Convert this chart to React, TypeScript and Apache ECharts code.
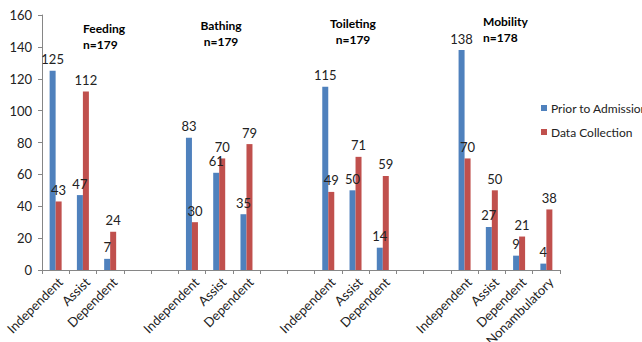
import React, { useEffect, useRef } from "react";
import * as echarts from "echarts";

// Activity levels shown under each ADL group
const levels = ["Independent", "Assist", "Dependent"];
const mobilityLevels = ["Independent", "Assist", "Dependent", "Nonambulatory"];

// Counts per level: prior to admission vs. at data collection
const feedingPrior = [125, 47, 7];
const feedingCollection = [43, 112, 24];
const bathingPrior = [83, 61, 35];
const bathingCollection = [30, 70, 79];
const toiletingPrior = [115, 50, 14];
const toiletingCollection = [49, 71, 59];
const mobilityPrior = [138, 27, 9, 4];
const mobilityCollection = [70, 50, 21, 38];

// Group headings
const groupTitles = ["Feeding", "Bathing", "Toileting", "Mobility"];
const groupSizes = ["n=179", "n=179", "n=179", "n=178"];

const seriesNames = ["Prior to Admission", "Data Collection"];
const yTicks = { min: 0, max: 160, interval: 20 };

// Two blank slots separate the groups on the category axis
const GAP = 2;
const groups = [
  { labels: levels, prior: feedingPrior, collection: feedingCollection },
  { labels: levels, prior: bathingPrior, collection: bathingCollection },
  { labels: levels, prior: toiletingPrior, collection: toiletingCollection },
  { labels: mobilityLevels, prior: mobilityPrior, collection: mobilityCollection },
];

const categories: string[] = [];
const priorData: (number | null)[] = [];
const collectionData: (number | null)[] = [];
groups.forEach((g, gi) => {
  if (gi > 0) {
    for (let i = 0; i < GAP; i++) {
      categories.push("");
      priorData.push(null);
      collectionData.push(null);
    }
  }
  g.labels.forEach((l, i) => {
    categories.push(l);
    priorData.push(g.prior[i]);
    collectionData.push(g.collection[i]);
  });
});

const FONT = "Lato, 'Open Sans', sans-serif";
const axisGrey = "#868686";

export default function App() {
  const ref = useRef<HTMLDivElement>(null);

  useEffect(() => {
    if (!ref.current) return;
    const chart = echarts.init(ref.current, undefined, { renderer: "svg" });

    const titleStyle = (text: string, align: "left" | "center") => ({
      text,
      font: `bold 12px ${FONT}`,
      fill: "#000",
      textAlign: align,
      textVerticalAlign: "middle",
    });
    const headings: any[] = [];
    const headingPos = [
      { x: 83, y: 28, align: "left" },
      { x: 221, y: 25, align: "center" },
      { x: 353, y: 23, align: "center" },
      { x: 483, y: 21, align: "left" },
    ];
    groupTitles.forEach((t, i) => {
      const p = headingPos[i];
      headings.push({ type: "text", x: p.x, y: p.y, style: titleStyle(t, p.align as any) });
      headings.push({ type: "text", x: p.x, y: p.y + 16, style: titleStyle(groupSizes[i], p.align as any) });
    });

    const labelStyle = {
      show: true,
      position: "top",
      distance: 5,
      fontSize: 13,
      fontFamily: FONT,
      color: "#222",
    };

    chart.setOption({
      animation: false,
      backgroundColor: "#fff",
      textStyle: { fontFamily: FONT },
      grid: {
        left: 42,
        right: 82,
        top: 15,
        bottom: 72,
        containLabel: false,
        outerBoundsMode: "none",
      },
      legend: {
        orient: "vertical",
        left: 541,
        top: 102,
        padding: 0,
        itemWidth: 6,
        itemHeight: 6,
        itemGap: 12,
        icon: "rect",
        textStyle: { fontSize: 12, fontFamily: FONT, color: "#222", padding: [0, 0, 0, -1] },
        data: seriesNames,
      },
      xAxis: {
        type: "category",
        data: categories,
        axisLine: { lineStyle: { color: axisGrey } },
        axisTick: { show: true, interval: 0, length: 4, lineStyle: { color: axisGrey } },
        axisLabel: {
          interval: 0,
          rotate: 45,
          margin: 5,
          verticalAlign: "top",
          fontSize: 13,
          fontFamily: FONT,
          color: "#222",
        },
      },
      yAxis: {
        type: "value",
        min: yTicks.min,
        max: yTicks.max,
        interval: yTicks.interval,
        splitLine: { show: false },
        axisLine: { show: true, lineStyle: { color: axisGrey } },
        axisTick: { show: true, length: 4, lineStyle: { color: axisGrey } },
        axisLabel: { margin: 10, fontSize: 13, fontFamily: FONT, color: "#222" },
      },
      series: [
        {
          name: seriesNames[0],
          type: "bar",
          data: priorData,
          barWidth: 6,
          barGap: "0%",
          itemStyle: { color: "#4F81BD" },
          label: labelStyle,
        },
        {
          name: seriesNames[1],
          type: "bar",
          data: collectionData,
          barWidth: 6,
          barGap: "0%",
          itemStyle: { color: "#C0504D" },
          label: labelStyle,
        },
      ],
      graphic: headings,
    });

    return () => chart.dispose();
  }, []);

  return (
    <div
      ref={ref}
      style={{ position: "absolute", left: 0, top: 0, width: 642, height: 342 }}
    />
  );
}
